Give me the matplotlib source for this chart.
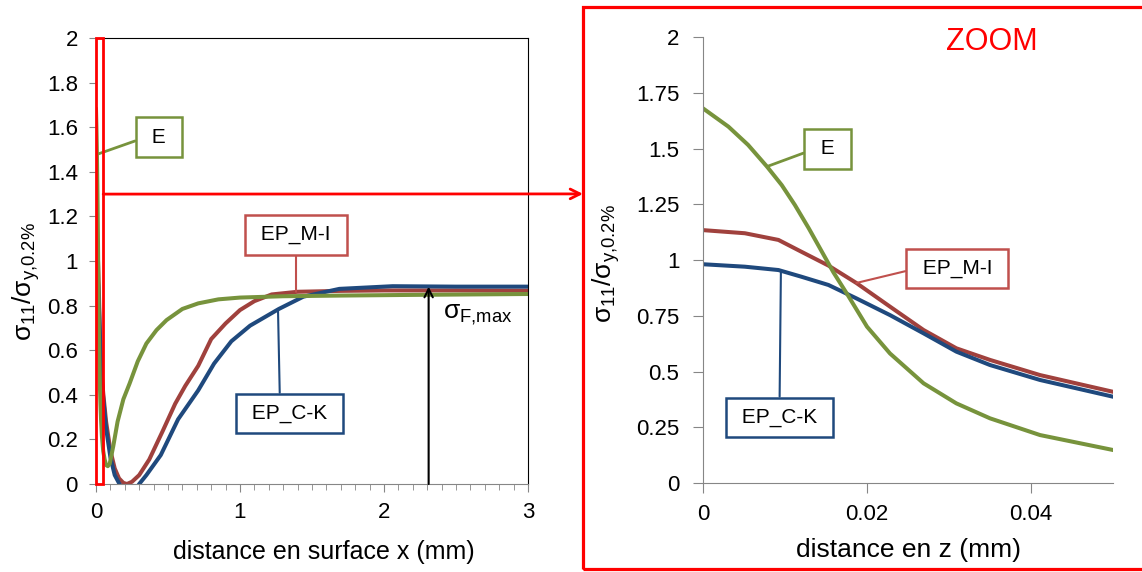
import matplotlib
matplotlib.use("Agg")
import matplotlib.pyplot as plt
from matplotlib.patches import Rectangle

plt.rcParams['font.family'] = ['Liberation Sans', 'DejaVu Sans']
plt.rcParams['mathtext.fontset'] = 'custom'
plt.rcParams['mathtext.rm'] = 'Liberation Sans'
plt.rcParams['mathtext.it'] = 'Liberation Sans'
plt.rcParams['mathtext.bf'] = 'Liberation Sans:bold'

# data (x in mm, y = sigma11 / sigma_y,0.2%)
x_E = [0, 0.0031, 0.0055, 0.0078, 0.0096, 0.0112, 0.0129, 0.0145, 0.0159, 0.0177, 0.02,
       0.0228, 0.0269, 0.0309, 0.035, 0.0411, 0.05,
       0.06, 0.07, 0.082, 0.095, 0.12, 0.15, 0.19, 0.233, 0.29, 0.35, 0.42, 0.49, 0.6, 0.71,
       0.85, 1.0, 1.3, 1.7, 2.2, 2.6, 3.0]
y_E = [1.68, 1.598, 1.516, 1.419, 1.336, 1.247, 1.142, 1.037, 0.945, 0.84, 0.701,
       0.581, 0.447, 0.357, 0.29, 0.215, 0.148,
       0.11, 0.085, 0.08, 0.09, 0.17, 0.28, 0.38, 0.45, 0.55, 0.63, 0.69, 0.735, 0.785, 0.81,
       0.828, 0.836, 0.842, 0.845, 0.848, 0.85, 0.852]

x_MI = [0, 0.0051, 0.0092, 0.012, 0.0153, 0.0187, 0.0228, 0.0269, 0.0309, 0.035, 0.0411, 0.05,
        0.07, 0.1, 0.13, 0.16, 0.19, 0.215, 0.25, 0.3, 0.37, 0.465, 0.55, 0.62, 0.71, 0.8,
        0.9, 1.0, 1.1, 1.22, 1.4, 1.7, 2.0, 2.5, 3.0]
y_MI = [1.134, 1.12, 1.09, 1.037, 0.975, 0.897, 0.791, 0.686, 0.604, 0.552, 0.484, 0.409,
        0.28, 0.15, 0.07, 0.025, 0.005, 0.0, 0.01, 0.04, 0.11, 0.24, 0.36, 0.44, 0.53, 0.65,
        0.72, 0.78, 0.82, 0.85, 0.862, 0.866, 0.868, 0.868, 0.867]

x_CK = [0, 0.0051, 0.0092, 0.012, 0.0153, 0.0187, 0.0228, 0.0269, 0.0309, 0.035, 0.0411, 0.05,
        0.07, 0.1, 0.13, 0.163, 0.2, 0.23, 0.27, 0.3, 0.35, 0.45, 0.57, 0.71, 0.82, 0.94,
        1.07, 1.27, 1.44, 1.69, 2.06, 2.5, 3.0]
y_CK = [0.981, 0.97, 0.955, 0.925, 0.888, 0.828, 0.753, 0.671, 0.589, 0.529, 0.462, 0.387,
        0.25, 0.12, 0.04, 0.0, -0.04, -0.05, -0.03, 0.0, 0.04, 0.13, 0.29, 0.42, 0.54, 0.64,
        0.71, 0.785, 0.84, 0.875, 0.887, 0.885, 0.885]

green = '#77933C'
red = '#A0413D'
blue = '#1F497D'
gray = '#868686'

fig = plt.figure(figsize=(11.42, 5.72), dpi=100)
ax1 = fig.add_axes([0.08406, 0.15385, 0.37828, 0.77972])
ax2 = fig.add_axes([0.61559, 0.15559, 0.35902, 0.77972])

ylab = r'$\sigma_{11}/\sigma_{y{,}0.2\%}$'

for ax in (ax1, ax2):
    ax.plot(x_MI, y_MI, color=red, lw=2.9, solid_joinstyle='round')
    ax.plot(x_CK, y_CK, color=blue, lw=2.9, solid_joinstyle='round')
    ax.plot(x_E, y_E, color=green, lw=2.9, solid_joinstyle='round')
    ax.spines['left'].set_color(gray)
    ax.spines['bottom'].set_color(gray)
    ax.tick_params(which='both', direction='out', color=gray)

# ---- left panel
ax1.set_xlim(0, 3)
ax1.set_ylim(0, 2)
ax1.set_xticks([0, 1, 2, 3])
ax1.set_xticks([i / 10 for i in range(31)], minor=True)
ax1.set_yticks([i / 5 for i in range(11)])
ax1.set_yticklabels(['0', '0.2', '0.4', '0.6', '0.8', '1', '1.2', '1.4', '1.6', '1.8', '2'])
ax1.tick_params(axis='x', which='major', length=6, pad=7, labelsize=16)
ax1.tick_params(axis='x', which='minor', length=4)
ax1.tick_params(axis='y', length=5, pad=8, labelsize=16)
ax1.spines['top'].set_color('black')
ax1.spines['right'].set_color('black')
ax1.set_xlabel('distance en surface x (mm)', fontsize=18)
ax1.xaxis.set_label_coords(0.528, -0.126)
ax1.set_ylabel(ylab, fontsize=19)
ax1.yaxis.set_label_coords(-0.125, 0.455)

box = dict(boxstyle='square,pad=0.5', fc='white', lw=1.8)
ax1.annotate(' E ', xy=(0.015, 1.48), xytext=(0.4375, 1.556), fontsize=15,
             ha='center', va='center', bbox=dict(box, ec=green),
             arrowprops=dict(arrowstyle='-', color=green, lw=2, relpos=(0, 0.5),
                             shrinkA=0, shrinkB=0))
ax1.annotate(' EP_M-I ', xy=(1.389, 0.862), xytext=(1.389, 1.117), fontsize=15,
             ha='center', va='center', bbox=dict(box, ec='#C0504D'),
             arrowprops=dict(arrowstyle='-', color='#C0504D', lw=1.5, relpos=(0.5, 0),
                             shrinkA=0, shrinkB=0))
ax1.annotate(' EP_C-K ', xy=(1.264, 0.78), xytext=(1.344, 0.316), fontsize=15,
             ha='center', va='center', bbox=dict(box, ec=blue),
             arrowprops=dict(arrowstyle='-', color=blue, lw=1.5, relpos=(0.39, 1),
                             shrinkA=0, shrinkB=0))
ax1.annotate('', xy=(2.31, 0.885), xytext=(2.31, 0),
             arrowprops=dict(arrowstyle='->,head_length=0.6,head_width=0.3', color='black',
                             lw=1.5, shrinkA=0, shrinkB=0))
ax1.text(2.41, 0.744, r'$\sigma_{F{,}max}$', fontsize=19, va='baseline', ha='left')

ax1.add_patch(Rectangle((0, 0), 0.05, 2, fill=False, ec='red', lw=2, clip_on=False, zorder=5))
ax1.annotate('', xy=(0.5105, 0.661), xycoords='figure fraction', xytext=(0.05, 1.3),
             textcoords='data',
             arrowprops=dict(arrowstyle='->,head_length=0.7,head_width=0.35', color='red',
                             lw=2, shrinkA=0, shrinkB=0))

# ---- right panel (zoom)
ax2.set_xlim(0, 0.05)
ax2.set_ylim(0, 2)
ax2.set_xticks([0, 0.02, 0.04])
ax2.set_xticklabels(['0', '0.02', '0.04'])
ax2.set_yticks([i / 4 for i in range(9)])
ax2.set_yticklabels(['0', '0.25', '0.5', '0.75', '1', '1.25', '1.5', '1.75', '2'])
ax2.tick_params(axis='x', length=7, pad=8, labelsize=16)
ax2.tick_params(axis='y', length=7, pad=10, labelsize=16)
ax2.spines['top'].set_visible(False)
ax2.spines['right'].set_visible(False)
ax2.set_xlabel('distance en z (mm)', fontsize=19)
ax2.xaxis.set_label_coords(0.5, -0.123)
ax2.set_ylabel(ylab, fontsize=19)
ax2.yaxis.set_label_coords(-0.198, 0.491)

ax2.annotate(' E ', xy=(0.0078, 1.419), xytext=(0.01518, 1.498), fontsize=15,
             ha='center', va='center', bbox=dict(box, ec=green),
             arrowprops=dict(arrowstyle='-', color=green, lw=2, relpos=(0, 0.5),
                             shrinkA=0, shrinkB=0))
ax2.annotate(' EP_M-I ', xy=(0.0187, 0.897), xytext=(0.031, 0.962), fontsize=15,
             ha='center', va='center', bbox=dict(box, ec='#C0504D'),
             arrowprops=dict(arrowstyle='-', color='#C0504D', lw=1.5, relpos=(0, 0.5),
                             shrinkA=0, shrinkB=0))
ax2.annotate(' EP_C-K ', xy=(0.0095, 0.952), xytext=(0.00933, 0.294), fontsize=15,
             ha='center', va='center', bbox=dict(box, ec=blue),
             arrowprops=dict(arrowstyle='-', color=blue, lw=1.5, relpos=(0.5, 1),
                             shrinkA=0, shrinkB=0))
ax2.text(0.0352, 1.978, 'ZOOM', color='red', fontsize=22, ha='center', va='center')

fig.patches.append(Rectangle((0.5105, 0.00524), 0.5, 0.9826, transform=fig.transFigure,
                             fill=False, ec='red', lw=2.3))

fig.savefig('out.png', dpi=100)
